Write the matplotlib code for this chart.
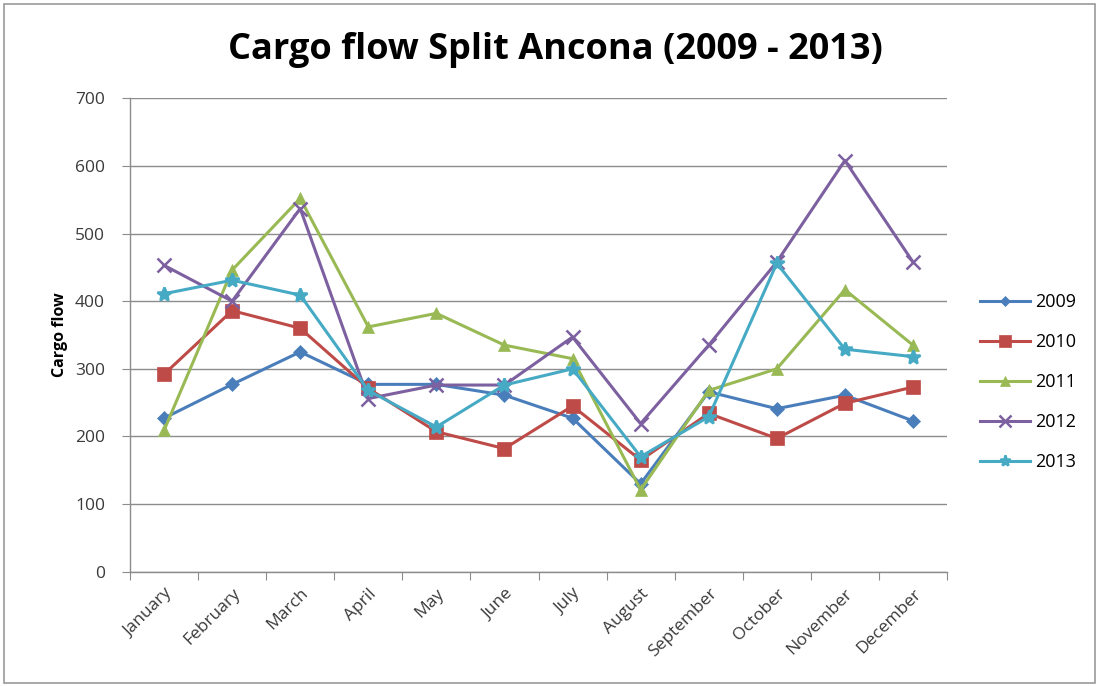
import matplotlib
matplotlib.use("Agg")
import matplotlib.pyplot as plt
from matplotlib.patches import Rectangle

months = ["January", "February", "March", "April", "May", "June", "July",
          "August", "September", "October", "November", "December"]
years = ["2009", "2010", "2011", "2012", "2013"]
v2009 = [227, 277, 325, 277, 277, 261, 227, 130, 266, 241, 261, 223]
v2010 = [292, 386, 360, 271, 207, 182, 245, 165, 234, 197, 249, 273]
v2011 = [209, 446, 552, 362, 382, 335, 315, 121, 268, 300, 417, 335]
v2012 = [453, 400, 537, 256, 276, 276, 347, 219, 335, 458, 608, 458]
v2013 = [411, 431, 409, 268, 214, 276, 300, 170, 229, 456, 329, 318]
series = [v2009, v2010, v2011, v2012, v2013]
colors = ["#4a7ebb", "#be4b48", "#98b954", "#7d60a0", "#46aac5"]
markers = ["D", "s", "^", "x", "*"]
msizes = [7, 10, 9, 10, 10]

plt.rcParams['font.family'] = ['Open Sans', 'DejaVu Sans']

fig = plt.figure(figsize=(10.99, 6.86), dpi=100)
fig.patches.append(Rectangle((0.004, 0.004), 0.992, 0.99, transform=fig.transFigure,
                             fill=False, edgecolor="#9a9a9a", linewidth=1.2))
ax = fig.add_axes([130/1099, 1-571.7/686, (947-130)/1099, (571.7-98.3)/686])

x = list(range(len(months)))
for vals, c, m, ms, lab in zip(series, colors, markers, msizes, years):
    kw = dict(markeredgewidth=1.8) if m in ("x", "*") else dict(markeredgewidth=0.5)
    ax.plot(x, vals, color=c, marker=m, markersize=ms, linewidth=2.2,
            markerfacecolor=c, markeredgecolor=c, label=lab, **kw)

ax.set_xlim(-0.5, 11.5)
ax.set_ylim(0, 700)
ax.set_yticks(range(0, 701, 100))
ax.yaxis.grid(True, color="#8c8c8c", linewidth=1.0)
ax.set_axisbelow(True)
for s in ["top", "right"]:
    ax.spines[s].set_visible(False)
for s in ["left", "bottom"]:
    ax.spines[s].set_color("#8c8c8c")
    ax.spines[s].set_linewidth(1.0)

ax.set_xticks([i - 0.5 for i in range(13)], minor=False)
ax.set_xticklabels([""] * 13)
ax.set_xticks(x, minor=True)
ax.set_xticklabels(months, minor=True, rotation=45, ha="right", va="top",
                   rotation_mode="anchor", fontsize=12.5, color="#3a3a3a")
ax.tick_params(axis="x", which="major", length=6, color="#8c8c8c", direction="out")
ax.tick_params(axis="x", which="minor", length=0, pad=10)
ax.tick_params(axis="y", length=6, color="#8c8c8c", labelsize=12.5, labelcolor="#3a3a3a", pad=12)

ax.set_ylabel("Cargo flow", fontsize=11.5, fontweight="bold", labelpad=5)

fig.text(0.505, 0.927, "Cargo flow Split Ancona (2009 - 2013)", ha="center", va="center",
         fontsize=26, fontweight="bold", family=["Open Sans", "DejaVu Sans"])

ax.legend(loc="center left", bbox_to_anchor=(1.02, 0.40), frameon=False,
          fontsize=13, handlelength=2.8, labelspacing=1.22, handletextpad=0.3,
          markerscale=0.8)

fig.savefig("out.png", dpi=100)
